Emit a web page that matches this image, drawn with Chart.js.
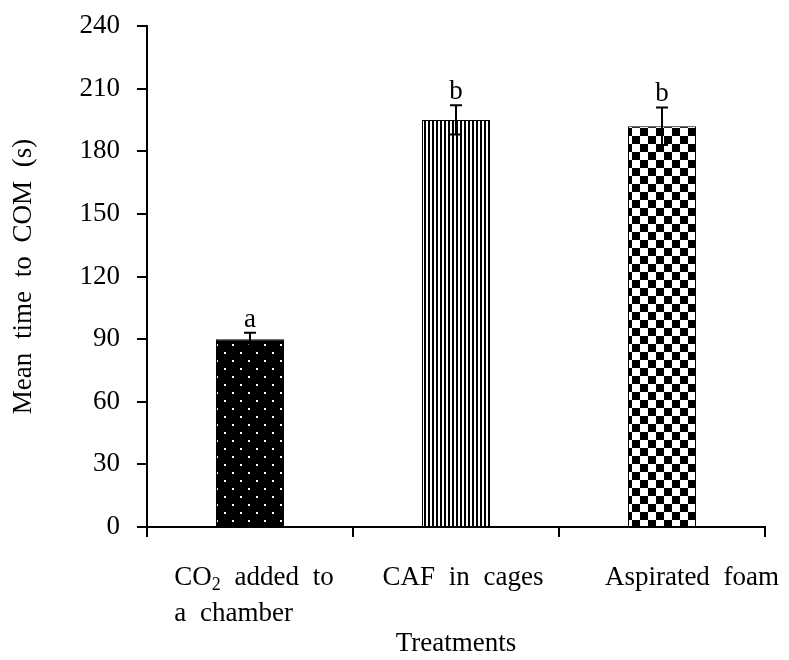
<!DOCTYPE html>
<html lang="en">
<head>
<meta charset="UTF-8">
<title>Mean time to COM</title>
<script src="https://cdn.jsdelivr.net/npm/chart.js"></script>
<style>
  body { margin: 0; background: #fff; }
  #wrap { width: 789px; height: 660px; }
</style>
</head>
<body>
<div id="wrap"><canvas id="comChart" width="789" height="660"></canvas></div>
<script>
// data
const treatments = [['CO\u2082 added to', 'a chamber'], ['CAF in cages'], ['Aspirated foam']];
const meanTimes = [90, 195, 192];
const stdErrors = [3, 7, 9];
const groupLetters = ['a', 'b', 'b'];
const yMin = 0, yMax = 240, yStep = 30;

const serif = '"Liberation Serif", "Times New Roman", serif';
const fontPx = 27;
const labelShift = [4, 7, 30];

// fill patterns for the three bars
function makePattern(size, paint) {
    const c = document.createElement('canvas');
    c.width = size; c.height = size;
    const g = c.getContext('2d');
    paint(g);
    return document.getElementById('comChart').getContext('2d').createPattern(c, 'repeat');
}
const dotFill = makePattern(16, g => {
    g.fillStyle = '#000'; g.fillRect(0, 0, 16, 16);
    g.fillStyle = '#fff';
    g.fillRect(0, 0, 2, 2);
    g.fillRect(8, 8, 2, 2);
});
const stripeFill = makePattern(4, g => {
    g.fillStyle = '#fff'; g.fillRect(0, 0, 4, 4);
    g.fillStyle = '#000'; g.fillRect(0, 0, 2, 4);
});
const checkFill = makePattern(16, g => {
    g.fillStyle = '#fff'; g.fillRect(0, 0, 16, 16);
    g.fillStyle = '#000';
    g.fillRect(0, 0, 8, 8);
    g.fillRect(8, 8, 8, 8);
});

const spacingPlugin = {
    id: 'spacing',
    beforeDraw(chart) { chart.ctx.wordSpacing = '7px'; }
};

const errorBarPlugin = {
    id: 'errorBars',
    afterDatasetsDraw(chart) {
        const ctx = chart.ctx;
        const y = chart.scales.y;
        const meta = chart.getDatasetMeta(0);
        ctx.save();
        ctx.strokeStyle = '#000';
        ctx.lineWidth = 2;
        meta.data.forEach((bar, i) => {
            const top = y.getPixelForValue(meanTimes[i] + stdErrors[i]);
            const bot = y.getPixelForValue(meanTimes[i] - stdErrors[i]);
            ctx.beginPath();
            ctx.moveTo(bar.x, top); ctx.lineTo(bar.x, bot);
            ctx.moveTo(bar.x - 6, top); ctx.lineTo(bar.x + 6, top);
            ctx.moveTo(bar.x - 6, bot); ctx.lineTo(bar.x + 6, bot);
            ctx.stroke();
            ctx.fillStyle = '#000';
            ctx.font = fontPx + 'px ' + serif;
            ctx.textAlign = 'center';
            ctx.textBaseline = 'alphabetic';
            ctx.fillText(groupLetters[i], bar.x, top - 6);
        });
        ctx.restore();
    }
};

// category labels, drawn by hand because of the subscript
const xLabelPlugin = {
    id: 'xLabels',
    afterDraw(chart) {
        const ctx = chart.ctx;
        const x = chart.scales.x;
        const base = chart.chartArea.bottom;
        ctx.save();
        ctx.fillStyle = '#000';
        ctx.textBaseline = 'alphabetic';
        ctx.textAlign = 'left';
        const big = fontPx + 'px ' + serif, small = '18px ' + serif;
        function partsWidth(line) {
            let w = 0;
            line.split(/(\u2082)/).forEach(p => {
                if (!p) return;
                ctx.font = p === '\u2082' ? small : big;
                w += ctx.measureText(p === '\u2082' ? '2' : p).width;
            });
            return w;
        }
        treatments.forEach((lines, i) => {
            const cx = x.getPixelForValue(i) + labelShift[i];
            const blockW = Math.max(...lines.map(partsWidth));
            const left = cx - blockW / 2;
            lines.forEach((line, li) => {
                let px = left;
                const by = base + 58 + li * 36;
                line.split(/(\u2082)/).forEach(p => {
                    if (!p) return;
                    if (p === '\u2082') {
                        ctx.font = small;
                        ctx.fillText('2', px, by + 5);
                        px += ctx.measureText('2').width;
                    } else {
                        ctx.font = big;
                        ctx.fillText(p, px, by);
                        px += ctx.measureText(p).width;
                    }
                });
            });
        });
        ctx.restore();
    }
};

const ctx = document.getElementById('comChart').getContext('2d');
const comChart = new Chart(ctx, {
    type: 'bar',
    data: {
        labels: treatments.map(l => l.join(' ')),
        datasets: [{
            data: meanTimes,
            backgroundColor: [dotFill, stripeFill, checkFill],
            borderColor: '#000',
            borderWidth: 1,
            barPercentage: 0.33,
            categoryPercentage: 1
        }]
    },
    options: {
        responsive: false,
        animation: false,
        layout: { padding: { top: 26, right: 24, left: 8, bottom: 0 } },
        plugins: {
            legend: { display: false },
            tooltip: { enabled: false }
        },
        scales: {
            x: {
                offset: true,
                grid: {
                    offset: true,
                    drawOnChartArea: false,
                    drawTicks: true,
                    tickLength: 10,
                    color: '#000',
                    lineWidth: 2
                },
                border: { color: '#000', width: 2 },
                ticks: { display: false },
                title: {
                    display: true,
                    text: 'Treatments',
                    color: '#000',
                    font: { family: serif, size: fontPx },
                    padding: { top: 0, bottom: 0 }
                },
                afterFit(s) { s.height = 133; }
            },
            y: {
                min: yMin,
                max: yMax,
                ticks: {
                    stepSize: yStep,
                    color: '#000',
                    padding: 17,
                    font: { family: serif, size: fontPx }
                },
                grid: {
                    drawOnChartArea: false,
                    drawTicks: true,
                    tickLength: 10,
                    color: '#000',
                    lineWidth: 2
                },
                border: { color: '#000', width: 2 },
                title: {
                    display: true,
                    text: 'Mean time to COM (s)',
                    color: '#000',
                    font: { family: serif, size: fontPx },
                    padding: { top: 0, bottom: 0 }
                },
                afterFit(s) {
                    s.width = 139;
                    s.paddingTop = 0;
                    s.paddingBottom = 0;
                }
            }
        }
    },
    plugins: [spacingPlugin, errorBarPlugin, xLabelPlugin]
});
</script>
</body>
</html>
